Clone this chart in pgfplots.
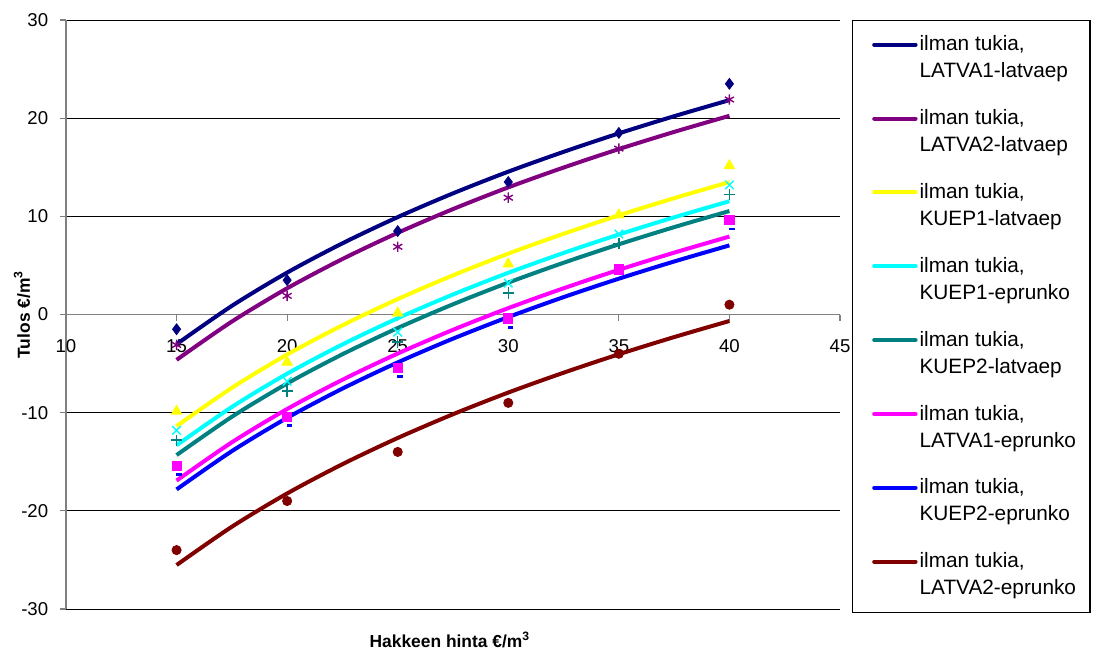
\documentclass[border=0pt]{standalone}
\usepackage{pgfplots}
\pgfplotsset{compat=1.18}
\usepackage{fontspec}
\setmainfont{Liberation Sans}

\definecolor{cNavy}{HTML}{000080}
\definecolor{cPurple}{HTML}{800080}
\definecolor{cYellow}{HTML}{FFFF00}
\definecolor{cCyan}{HTML}{00FFFF}
\definecolor{cTeal}{HTML}{008080}
\definecolor{cMagenta}{HTML}{FF00FF}
\definecolor{cBlue}{HTML}{0000FF}
\definecolor{cMaroon}{HTML}{800000}
\definecolor{cAxis}{HTML}{808080}

\begin{document}
\begin{tikzpicture}
\useasboundingbox (-33pt,-23pt) rectangle (514pt,304.5pt);
\begin{axis}[
  at={(0,0)}, anchor=south west,
  scale only axis, width=387pt, height=294.5pt,
  xmin=10, xmax=45, ymin=-30, ymax=30,
  axis y line*=left, axis x line*=middle,
  axis line style={cAxis, line width=0.6pt},
  xtick={10,15,...,45}, ytick={-30,-20,...,30},
  minor tick num=0,
  tick align=outside, major tick length=3pt,
  tick style={cAxis, line width=0.6pt},
  hide obscured x ticks=false,
  ymajorgrids, grid style={black, line width=0.5pt},
  /pgf/number format/assume math mode=true,
  ticklabel style={font=\fontsize{9.3}{11}\selectfont},
  xticklabel style={yshift=-6pt},
  yticklabel style={xshift=-2.4pt},
  xlabel={\textbf{Hakkeen hinta €/m\textsuperscript{3}}},
  ylabel={\textbf{Tulos €/m\textsuperscript{3}}},
  label style={font=\fontsize{8.7}{10}\selectfont},
  xlabel style={at={(axis description cs:0.496,-0.0526)}, anchor=center},
  ylabel style={at={(axis description cs:-0.0568,0.5)}, anchor=center},
  legend style={
    at={(axis description cs:1.0155,1)}, anchor=north west,
    draw=black, line width=0.6pt,
    inner xsep=6pt, inner ysep=6.5pt,
    row sep=12.4pt, column sep=0pt,
    font=\fontsize{10.4}{13.5}\selectfont,
    cells={align=left, anchor=west},
    nodes={inner xsep=1pt, inner ysep=1pt},
  },
  legend image code/.code={
    \path (0pt,0pt);
    \draw[line width=2pt, line cap=round] (3.8pt,6.75pt) -- (24.5pt,6.75pt);
  },
]

% --- observed results (markers only) ---
\addplot[only marks, mark=diamond*, mark size=2.7pt, color=cNavy, forget plot]
  coordinates {(15,-1.5) (20,3.5) (25,8.5) (30,13.5) (35,18.5) (40,23.5)};
\addplot[only marks, mark=asterisk, mark size=2.6pt, line width=0.7pt, color=cPurple, forget plot]
  coordinates {(15,-3.1) (20,1.9) (25,6.9) (30,11.9) (35,16.9) (40,21.9)};
\addplot[only marks, mark=triangle*, mark size=3pt, color=cYellow, forget plot]
  coordinates {(15,-9.85) (20,-4.85) (25,0.15) (30,5.15) (35,10.15) (40,15.15)};
\addplot[only marks, mark=x, mark size=3pt, line width=0.7pt, color=cCyan, forget plot]
  coordinates {(15,-11.8) (20,-6.8) (25,-1.8) (30,3.2) (35,8.2) (40,13.2)};
\addplot[only marks, mark=+, mark size=2.8pt, line width=0.7pt, color=cTeal, forget plot]
  coordinates {(15,-12.8) (20,-7.8) (25,-2.8) (30,2.2) (35,7.2) (40,12.2)};
\addplot[only marks, mark=square*, mark size=2.3pt, color=cMagenta, forget plot]
  coordinates {(15,-15.4) (20,-10.4) (25,-5.4) (30,-0.4) (35,4.6) (40,9.6)};
\addplot[only marks, mark=-, mark size=1.4pt, line width=1.3pt, color=cBlue, forget plot,
  mark options={xshift=1.2pt}]
  coordinates {(15,-16.3) (20,-11.3) (25,-6.3) (30,-1.3) (35,3.7) (40,8.7)};
\addplot[only marks, mark=*, mark size=2.3pt, color=cMaroon, forget plot]
  coordinates {(15,-24) (20,-19) (25,-14) (30,-9) (35,-4) (40,1)};

% --- logarithmic trend lines ---
\addplot[color=cNavy, line width=2pt, smooth, no marks] coordinates {
  (15,-3.02) (17.5,0.88) (20,4.27) (22.5,7.25) (25,9.92) (27.5,12.34)
  (30,14.55) (32.5,16.57) (35,18.45) (37.5,20.20) (40,21.84)};
\addlegendentry{ilman tukia,\\LATVA1-latvaep}
\addplot[color=cPurple, line width=2pt, smooth, no marks] coordinates {
  (15,-4.62) (17.5,-0.72) (20,2.67) (22.5,5.65) (25,8.32) (27.5,10.74)
  (30,12.95) (32.5,14.97) (35,16.85) (37.5,18.60) (40,20.24)};
\addlegendentry{ilman tukia,\\LATVA2-latvaep}
\addplot[color=cYellow, line width=2pt, smooth, no marks] coordinates {
  (15,-11.37) (17.5,-7.47) (20,-4.08) (22.5,-1.10) (25,1.57) (27.5,3.99)
  (30,6.20) (32.5,8.22) (35,10.10) (37.5,11.85) (40,13.49)};
\addlegendentry{ilman tukia,\\KUEP1-latvaep}
\addplot[color=cCyan, line width=2pt, smooth, no marks] coordinates {
  (15,-13.32) (17.5,-9.42) (20,-6.03) (22.5,-3.05) (25,-0.38) (27.5,2.04)
  (30,4.25) (32.5,6.27) (35,8.15) (37.5,9.90) (40,11.54)};
\addlegendentry{ilman tukia,\\KUEP1-eprunko}
\addplot[color=cTeal, line width=2pt, smooth, no marks] coordinates {
  (15,-14.32) (17.5,-10.42) (20,-7.03) (22.5,-4.05) (25,-1.38) (27.5,1.04)
  (30,3.25) (32.5,5.27) (35,7.15) (37.5,8.90) (40,10.54)};
\addlegendentry{ilman tukia,\\KUEP2-latvaep}
\addplot[color=cMagenta, line width=2pt, smooth, no marks] coordinates {
  (15,-16.92) (17.5,-13.02) (20,-9.63) (22.5,-6.65) (25,-3.98) (27.5,-1.56)
  (30,0.65) (32.5,2.67) (35,4.55) (37.5,6.30) (40,7.94)};
\addlegendentry{ilman tukia,\\LATVA1-eprunko}
\addplot[color=cBlue, line width=2pt, smooth, no marks] coordinates {
  (15,-17.82) (17.5,-13.92) (20,-10.53) (22.5,-7.55) (25,-4.88) (27.5,-2.46)
  (30,-0.26) (32.5,1.77) (35,3.65) (37.5,5.40) (40,7.04)};
\addlegendentry{ilman tukia,\\KUEP2-eprunko}
\addplot[color=cMaroon, line width=2pt, smooth, no marks] coordinates {
  (15,-25.52) (17.5,-21.62) (20,-18.23) (22.5,-15.25) (25,-12.58) (27.5,-10.16)
  (30,-7.95) (32.5,-5.93) (35,-4.05) (37.5,-2.30) (40,-0.66)};
\addlegendentry{ilman tukia,\\LATVA2-eprunko}
\end{axis}
\end{tikzpicture}
\end{document}
